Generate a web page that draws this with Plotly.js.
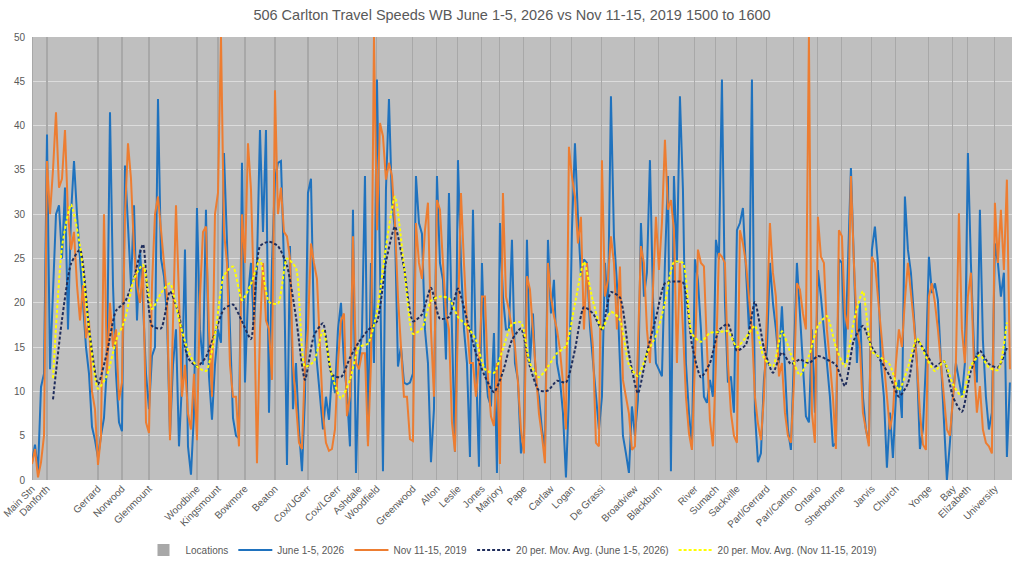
<!DOCTYPE html>
<html>
<head>
<meta charset="utf-8">
<script src="https://cdn.plot.ly/plotly-3.0.1.min.js"></script>
<style>html,body{margin:0;padding:0;background:#fff;}#chart{width:1024px;height:561px;}</style>
</head>
<body>
<div id="chart"></div>
<script>
const chartTitle = "506 Carlton Travel Speeds WB June 1-5, 2026 vs Nov 11-15, 2019 1500 to 1600";

const locationNames = ["Main Stn","Danforth","Gerrard","Norwood","Glenmount","Woodbine","Kingsmount","Bowmore","Beaton","Cox/UGerr","Cox/LGerr","Ashdale","Woodfield","Greenwood","Alton","Leslie","Jones","Marjory","Pape","Carlaw","Logan","De Grassi","Broadview","Blackburn","River","Sumach","Sackville","Parl/Gerrard","Parl/Carlton","Ontario","Sherbourne","Jarvis","Church","Yonge","Bay","Elizabeth","University"];
const locationIndex = [0,5,22,30,39,55,62,71,81,92,102,109,115,127,135,142,150,156,164,173,180,190,201,209,221,228,235,245,254,262,270,280,288,299,307,312,321];
const locationBars = [50,50,50,50,50,50,50,50,50,50,50,50,50,50,50,50,50,50,50,50,50,50,50,50,50,50,50,50,50,50,50,50,50,50,50,50,50];

const june2026 = [
2.0,4.0,1.0,10.5,12.0,39.0,12.5,22,30,31,25,33,17,30,36,30,25,20,15,12,
6,4.5,2.5,5,7,13,41.5,22,12,6.5,5.5,35.5,28,22,31,18,26,20,12,8,
14,15,43,25,23,18.5,5,13,17,3.8,11,26,3.8,0.6,7.6,30.7,17,13,30.5,11.7,
6.8,13,17,15.5,36.9,28,17,7,5,4.7,35.8,11,20.7,24.5,17,24.5,39.5,28,39.5,7.6,
24.5,34,35.8,36,24.5,1.7,26.4,8,13.2,5.7,1.0,9.4,32.4,34,17,13.2,9,5.7,9.4,6.8,
12,9.8,17,20,13.2,9.8,3.8,30.5,0.8,13.2,16.6,34.3,4.2,24.5,13.2,45.2,24.5,1.0,32.8,43,
31.3,28.2,12.8,15.1,11,10.8,11,12,34.3,29,27.8,17,13.2,2.0,8,34.3,24.5,22.6,13.6,32.4,
17,3.2,36.1,24.5,17,13.2,2.6,30.5,13.2,1.5,24.5,13.2,9.4,8.3,16.6,0.8,29,20.7,17,17,
27.1,13.2,11.3,3,5,27.1,13.2,18.8,11,9.4,5.7,3.5,27.1,18.8,22.6,13.2,11.3,7.6,0.3,9.4,
28.2,38,29.7,23,24.9,24.5,17.3,13.2,9.4,5.7,9.4,24.5,18.8,43.3,27.5,22.2,13.2,5,3,0.8,
8.3,5,9.1,29,20.7,23.4,36.1,20.7,13.2,12.5,11.7,24.5,34.3,1.0,34.3,24.5,43.3,32.8,13.2,7.6,
3.8,24.9,22.6,17,9.4,8.7,11.3,9.4,27.1,24.9,45.2,20,11,11.7,7.6,28.2,29,30.7,24.5,17,
45.2,7.6,2.0,3.0,11.3,14.7,24.5,20,17,13.2,19.6,11.7,5.7,3.4,13.2,24.5,18.8,13.2,7.2,6.5,
17,7.6,23.7,20.7,17,13.2,9.4,3.8,4.2,24.9,24.5,13.2,24.5,35.2,24.5,13.2,20,9.4,5.7,4.2,
26,28.6,24.5,13.2,9.4,1.4,7.6,2.5,9.4,11.3,7,32,26,23.4,18.5,13.2,3.5,5.7,13.2,25.2,
21.1,22.2,20.3,13.2,7.6,0.0,4.2,9.4,13.2,11.3,9.4,13.2,36.9,24.5,15.1,11,30.5,15.8,9.4,5.7,
7.6,26.7,24.5,20.7,23.4,2.6,11
];

const nov2019 = [
1.8,3.5,0.3,2.0,5.0,36,30,35,41.5,33,34,39.5,30,26,28,22,18,22,16,18,
10,8,1.7,5,30,12,20,15,17,9,11,30,38,34,26,22,20,24,6.5,5.3,
22,30,32,28,24.5,20.7,4.5,17,31,20.7,9.4,13,7.5,5.7,12,4.5,20.7,28,28.6,17,
9.4,30,32.4,50,28,24.5,13,9.4,9.4,3.8,30,24.5,38,32.8,20.7,1.9,17,24.5,18,17,
11.3,44,30,33,28,27.5,25,13,8,4.2,3.5,13.2,17,26.7,24.5,22.7,15,7.5,4.2,3.3,
3.5,5.7,13.2,18,18.8,7.2,9.4,27.5,13.2,12.5,14.3,14.3,3.8,13.2,50,28.2,40.3,38.8,33.9,35.8,
34.3,29,20.7,15.1,9.4,9.4,4.6,4.4,29,24.5,22.7,28.2,31.3,17,9.4,31.6,30.5,24.5,18.8,17,
6.5,3.2,17,32.4,24.5,17.7,13.2,13.2,9.4,13.2,20.7,20.7,11.7,7.2,6.1,13.2,1.8,32.4,20.7,19.2,
17,15.1,11,5.7,3,23,21.5,17,12,7.5,5,1.9,24.5,20.7,18.5,17,14.7,11,5.7,37.6,
34.3,32,26.7,29.7,17,24.5,18.8,15.1,4.2,3.8,36.1,20.7,22.6,27.5,24.5,17,24.1,11.3,9.4,7.5,
3.4,3.8,15.1,26.4,24.5,17,13.2,22.6,29.7,23.7,29,38.4,30.5,31.6,28.2,13.2,24.5,17,9.4,5.3,
3.4,13.2,26,24.5,24.1,15.1,6.8,3.8,13.2,25.6,25.2,24.5,13.2,7.6,5,4.2,28.2,26.7,24.5,20.7,
17,9.4,6.4,4.5,9.4,18.8,29,23.4,20.7,11.7,13.2,7.6,5,4.2,10.9,22.2,21.5,18.8,17,50,
7.6,4.2,29.7,25.2,24.5,17,13.2,9.4,3.5,28.2,27.5,18.8,17,34.3,24.5,17,15.1,7.6,5.7,3.8,
25.2,24.5,20.7,17,13.2,9.4,5.7,7.6,13.2,17,15,20.3,24.5,21.1,17.7,13.2,7.6,4.0,3.4,20.7,
22.2,20,17,13.2,9.4,5.7,5,9.4,13.2,30.1,17,13.2,20.7,23.4,13.2,7.6,10.6,5.7,4.2,3.8,
3,31.3,24.5,30.5,23.7,33.9,12.5
];

// 20 per. moving averages, one value every 3 points starting at point 7
const maStart = 7, maStep = 3;
const maJune2026 = [
9.1,18.1,24.4,26,17.2,10.8,14.4,19.1,20.1,22.8,26.6,17.4,17.1,21.3,18.6,13.8,12.8,13.9,16.6,19.3,
19.8,17.9,15.9,26.4,26.9,26.4,24.2,18.4,11.3,16.3,17.7,11.9,11.6,13.8,15.6,16.9,17.9,24.6,28.6,24,
17.9,18.7,21.7,18.2,18.4,21.6,18.1,14.3,11.7,9.9,12.2,15.8,17.1,12.8,10.1,10.1,11.2,11,14.7,19.5,
18.8,17,21.2,20.6,14.2,9.8,14.4,18.3,22.2,22.4,22.3,15.3,11.6,13.2,16.9,17.6,14.6,15.3,20.1,14.9,
12.1,14.4,13.1,13.6,13.2,14,13.6,13,10.6,15.8,17.4,15,13.4,11.7,9.4,10.9,15.8,14.3,12.8,13.4,
9.4,7.7,12.3,14.6,13.1,12.7,14.9
];
const maNov2019 = [
11.5,26.3,31.1,26.4,17.1,10.3,11.8,15.7,18.1,22.7,24.3,19.3,21.1,22.2,18.1,14.6,12.8,12.3,16.4,23.1,
24.1,20.3,22.1,24.9,20.1,19.9,25,23.9,12.8,13.4,16.9,11.8,9.2,11.3,15,15.4,19,26.3,32,24.3,
16.5,17.1,20.2,20.7,20.5,18.4,17.4,15.8,12.5,12.1,14.8,17.6,17.8,13.2,11.6,12.8,14.3,15.1,19.9,24.6,
20.2,17,19,18.1,13,11.7,14.3,16.3,20,24.6,24.5,16.5,15.6,16.6,16.7,16.8,15,16.1,17.4,13.8,
12.8,16.8,14.2,11.8,14,17.4,18.5,15,12.8,18,21.3,14.5,13.8,13,10.1,12.7,16,13.9,12.3,13.4,
10.8,9.4,12.9,14.1,12.7,12.4,17.8
];

const seriesNames = ["Locations","June 1-5, 2026","Nov 11-15, 2019","20 per. Mov. Avg. (June 1-5, 2026)","20 per. Mov. Avg. (Nov 11-15, 2019)"];

const FONT = "Liberation Sans, Arial, sans-serif";
const TXT = "#595959";

const traces = [
  {type:"bar", name:seriesNames[0], x:locationIndex, y:locationBars, width:0.35,
   marker:{color:"#A8A8A8", line:{width:0}}, hoverinfo:"skip"},
  {type:"scatter", mode:"lines", name:seriesNames[1], y:june2026, x0:0, dx:1,
   line:{color:"#1F72BE", width:2}},
  {type:"scatter", mode:"lines", name:seriesNames[2], y:nov2019, x0:0, dx:1,
   line:{color:"#ED7D31", width:2}},
  {type:"scatter", mode:"lines", name:seriesNames[3], y:maJune2026, x0:maStart, dx:maStep,
   line:{color:"#1F2D5C", width:2, dash:"3px,2px", shape:"spline", smoothing:0.6}},
  {type:"scatter", mode:"lines", name:seriesNames[4], y:maNov2019, x0:maStart, dx:maStep,
   line:{color:"#FFFF00", width:2, dash:"3px,2px", shape:"spline", smoothing:0.6}}
];

const layout = {
  width:1024, height:561,
  margin:{l:32, r:12, t:37, b:81, pad:0, autoexpand:false},
  paper_bgcolor:"#FFFFFF",
  plot_bgcolor:"#BFBFBF",
  font:{family:FONT, color:TXT, size:10},
  title:{text:chartTitle, x:0.5, xref:"container", xanchor:"center",
         y:1-15/561, yref:"container", yanchor:"middle",
         font:{family:FONT, size:14.5, color:TXT}},
  bargap:0,
  showlegend:true,
  legend:{orientation:"h", x:0.5, xref:"container", xanchor:"center",
          y:1-550/561, yref:"container", yanchor:"middle",
          font:{family:FONT, size:10, color:TXT}, traceorder:"normal",
          itemwidth:34, bgcolor:"rgba(0,0,0,0)"},
  xaxis:{range:[0,326.7], tickmode:"array", tickvals:locationIndex, ticktext:locationNames,
         tickangle:-45, showgrid:false, zeroline:false, showline:false, ticks:"",
         tickfont:{family:FONT, size:10, color:TXT}, automargin:false, fixedrange:true},
  yaxis:{range:[0,50], dtick:5, tick0:0, showgrid:true, gridcolor:"#DCDCDC", gridwidth:1,
         zeroline:false, showline:false, ticks:"", ticklabelstandoff:6,
         tickfont:{family:FONT, size:10, color:TXT}, automargin:false, fixedrange:true}
};

Plotly.newPlot("chart", traces, layout, {staticPlot:true, displayModeBar:false});
</script>
</body>
</html>
